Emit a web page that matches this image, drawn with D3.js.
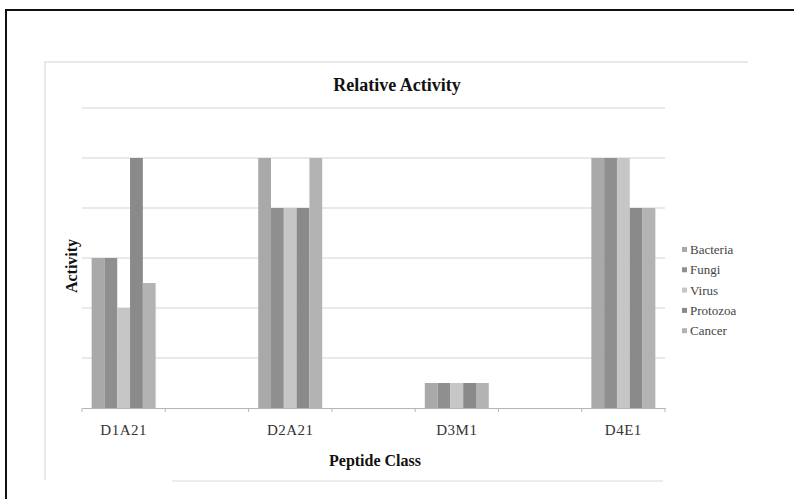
<!DOCTYPE html>
<html>
<head>
<meta charset="utf-8">
<script src="https://cdn.jsdelivr.net/npm/d3@7"></script>
<style>
  body { margin: 0; background: #fff; }
  svg text { font-family: "Liberation Serif", "Times New Roman", serif; }
</style>
</head>
<body>
<svg id="chart" width="794" height="499"></svg>
<script>
// categories (empty ones are the blank slots between peptides)
var categories = ["D1A21", "", "D2A21", "", "D3M1", "", "D4E1"];
var seriesNames = ["Bacteria", "Fungi", "Virus", "Protozoa", "Cancer"];
var seriesColors = ["#a9a9a9", "#8f8f8f", "#c6c6c6", "#8a8a8a", "#b3b3b3"];

var bacteria = [3, null, 5, null, 0.5, null, 5];
var fungi    = [3, null, 4, null, 0.5, null, 5];
var virus    = [2, null, 4, null, 0.5, null, 5];
var protozoa = [5, null, 4, null, 0.5, null, 4];
var cancer   = [2.5, null, 5, null, 0.5, null, 4];

var yTicks = [0, 1, 2, 3, 4, 5, 6];

var seriesValues = [bacteria, fungi, virus, protozoa, cancer];

var svg = d3.select("#chart");

// outer black frame (runs off the page at right and bottom)
svg.append("rect")
  .attr("x", 6).attr("y", 10)
  .attr("width", 800).attr("height", 500)
  .attr("fill", "none")
  .attr("stroke", "#111")
  .attr("stroke-width", 2);

// faint chart-area border
svg.append("line").attr("x1", 44).attr("x2", 748).attr("y1", 62).attr("y2", 62)
  .attr("stroke", "#e2e2e2").attr("stroke-width", 1.5);
svg.append("line").attr("x1", 45).attr("x2", 45).attr("y1", 62).attr("y2", 480)
  .attr("stroke", "#e2e2e2").attr("stroke-width", 1.5);
svg.append("line").attr("x1", 172).attr("x2", 663).attr("y1", 481).attr("y2", 481)
  .attr("stroke", "#e6e6e6").attr("stroke-width", 1.5);

var margin = {left: 82, right: 665, top: 108, bottom: 408};

var xScale = d3.scaleBand()
  .domain(d3.range(categories.length))
  .range([margin.left, margin.right]);

var groupWidth = 64;
var xInner = d3.scaleBand()
  .domain(seriesNames)
  .range([0, groupWidth]);

var yScale = d3.scaleLinear()
  .domain([0, 6])
  .range([margin.bottom, margin.top]);

// gridlines
svg.append("g")
  .selectAll("line")
  .data(yTicks.filter(function(d) { return d > 0; }))
  .enter().append("line")
  .attr("x1", margin.left).attr("x2", margin.right)
  .attr("y1", function(d) { return yScale(d); })
  .attr("y2", function(d) { return yScale(d); })
  .attr("stroke", "#d4d4d4")
  .attr("stroke-width", 1.2);

// bars
var offset = (xScale.bandwidth() - groupWidth) / 2;
seriesValues.forEach(function(vals, s) {
  svg.append("g")
    .selectAll("rect")
    .data(vals.map(function(v, i) { return [i, v]; }).filter(function(d) { return d[1] != null; }))
    .enter().append("rect")
    .attr("x", function(d) { return xScale(d[0]) + offset + xInner(seriesNames[s]); })
    .attr("y", function(d) { return yScale(d[1]); })
    .attr("width", xInner.bandwidth())
    .attr("height", function(d) { return yScale(0) - yScale(d[1]); })
    .attr("fill", seriesColors[s]);
});

// x axis
var xAxis = d3.axisBottom(xScale)
  .tickFormat(function(i) { return categories[i]; })
  .tickSize(0);
var gx = svg.append("g")
  .attr("transform", "translate(0," + margin.bottom + ")")
  .call(xAxis);
gx.select(".domain").attr("stroke", "#b5b5b5").attr("stroke-width", 1.2);
gx.selectAll("text")
  .attr("dy", "1.6em")
  .style("font-size", "15px")
  .style("letter-spacing", "0.5px")
  .attr("fill", "#333");

// tick marks at band boundaries
var bounds = d3.range(categories.length + 1).map(function(i) {
  return margin.left + i * xScale.step();
});
svg.append("g")
  .selectAll("line")
  .data(bounds)
  .enter().append("line")
  .attr("x1", function(d) { return d; }).attr("x2", function(d) { return d; })
  .attr("y1", margin.bottom).attr("y2", margin.bottom + 4)
  .attr("stroke", "#b5b5b5");

// title
svg.append("text")
  .attr("x", 397).attr("y", 91)
  .attr("text-anchor", "middle")
  .style("font-size", "18px")
  .style("font-weight", "bold")
  .attr("fill", "#111")
  .text("Relative Activity");

// axis titles
svg.append("text")
  .attr("transform", "translate(77,266) rotate(-90)")
  .attr("text-anchor", "middle")
  .style("font-size", "16px")
  .style("font-weight", "bold")
  .attr("fill", "#111")
  .text("Activity");

svg.append("text")
  .attr("x", 375).attr("y", 466)
  .attr("text-anchor", "middle")
  .style("font-size", "16px")
  .style("font-weight", "bold")
  .attr("fill", "#111")
  .text("Peptide Class");

// legend
var legend = svg.append("g")
  .selectAll("g")
  .data(seriesNames)
  .enter().append("g")
  .attr("transform", function(d, i) { return "translate(682," + (250 + i * 20.3) + ")"; });

legend.append("rect")
  .attr("x", 0).attr("y", -3)
  .attr("width", 5).attr("height", 5)
  .attr("fill", function(d, i) { return seriesColors[i]; });

legend.append("text")
  .attr("x", 8).attr("y", 4)
  .style("font-size", "13px")
  .attr("fill", "#444")
  .text(function(d) { return d; });
</script>
</body>
</html>
